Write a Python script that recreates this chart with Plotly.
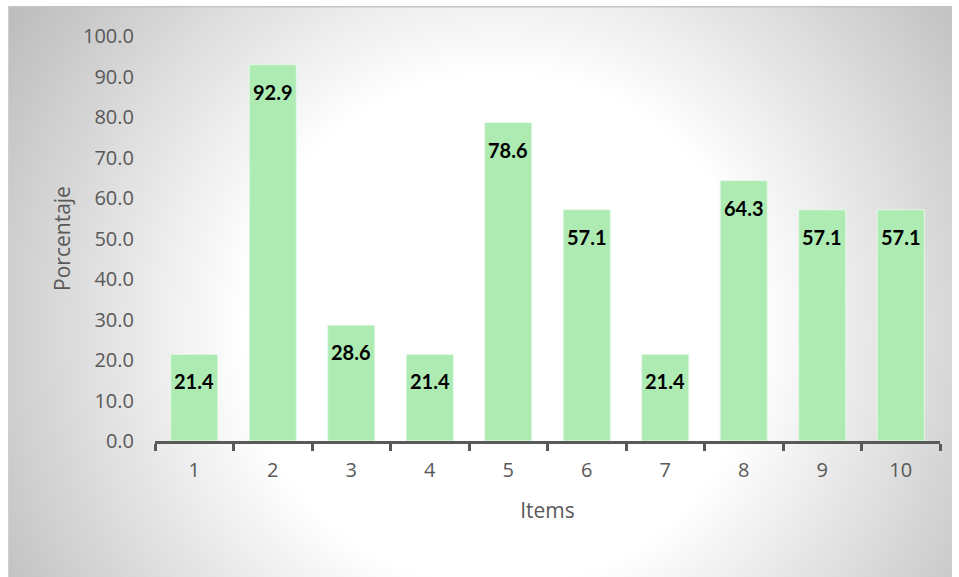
import base64
import plotly.graph_objects as go

items = ["1", "2", "3", "4", "5", "6", "7", "8", "9", "10"]
porcentaje = [21.4, 92.9, 28.6, 21.4, 78.6, 57.1, 21.4, 64.3, 57.1, 57.1]
y_ticks = [0, 10, 20, 30, 40, 50, 60, 70, 80, 90, 100]
y_labels = [f"{v:.1f}" for v in y_ticks]

W, H = 959, 577
L, R, T, B = 155, 19, 36, 136
pw, ph = W - L - R, H - T - B

# background box (pixels)
bx0, by0, bx1, by1 = 8, 6, 952, 577
bw, bh = bx1 - bx0, by1 - by0
svg = f'''<svg xmlns="http://www.w3.org/2000/svg" width="{bw}" height="{bh}" viewBox="0 0 {bw} {bh}">
<defs><radialGradient id="g" gradientUnits="userSpaceOnUse" cx="{500-bx0}" cy="{330-by0}" r="580">
<stop offset="0" stop-color="#ffffff"/><stop offset="0.44" stop-color="#ffffff"/>
<stop offset="1" stop-color="#bdbdbd"/></radialGradient></defs>
<rect x="0" y="0" width="{bw}" height="{bh}" fill="url(#g)"/>
<line x1="0" y1="0.5" x2="{bw}" y2="0.5" stroke="#c4c4c4" stroke-width="2"/>
<line x1="0.5" y1="0" x2="0.5" y2="{bh}" stroke="#cfcfcf" stroke-width="1"/>
</svg>'''
src = "data:image/svg+xml;base64," + base64.b64encode(svg.encode()).decode()

def px2paper_x(px):
    return (px - L) / pw

def py2paper_y(py):
    return (H - B - py) / ph

fig = go.Figure()
fig.add_trace(go.Bar(
    x=items, y=porcentaje, width=0.6,
    marker=dict(color="#ADEBB3", line=dict(color="#E4F8E6", width=1)),
    hoverinfo="x+y",
))

for i, v in enumerate(porcentaje):
    fig.add_annotation(
        x=i, y=v, text=f"<b>{v:.1f}</b>", showarrow=False,
        yanchor="top", yshift=-13,
        font=dict(family="Lato, 'Open Sans', sans-serif", size=20, color="#000000"),
    )

fig.add_layout_image(dict(
    source=src, xref="paper", yref="paper",
    x=px2paper_x(bx0), y=py2paper_y(by0),
    sizex=bw / pw, sizey=bh / ph,
    xanchor="left", yanchor="top", sizing="stretch", layer="below",
))

fig.update_layout(
    width=W, height=H,
    margin=dict(l=L, r=R, t=T, b=B),
    paper_bgcolor="white", plot_bgcolor="rgba(0,0,0,0)",
    showlegend=False, bargap=0.4,
    font=dict(family="'Open Sans', sans-serif", color="#595959", size=20),
    xaxis=dict(
        type="category", range=[-0.5, 9.5],
        showline=True, linecolor="#595959", linewidth=2.5,
        ticks="outside", tickson="boundaries", ticklen=7, tickwidth=2.5, tickcolor="#595959",
        showgrid=False, zeroline=False,
        ticklabelstandoff=9,
        tickfont=dict(size=20, color="#595959"),
        title=dict(text="Items", font=dict(size=21, color="#595959"), standoff=22),
    ),
    yaxis=dict(
        range=[0, 100], tickvals=y_ticks, ticktext=y_labels,
        showline=False, showgrid=False, zeroline=False, ticks="",
        ticklabelstandoff=20,
        tickfont=dict(size=20, color="#595959"),
        title=dict(text="Porcentaje", font=dict(size=21, color="#595959"), standoff=6),
    ),
)

fig.write_html("out.html")
